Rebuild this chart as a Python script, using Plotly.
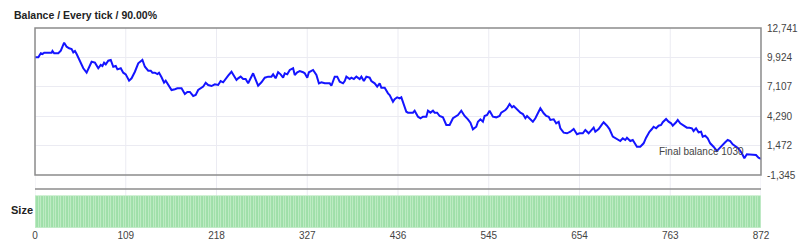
import plotly.graph_objects as go

# ---- data ----
tick_index = [0, 4, 7, 9, 11, 20, 21, 23, 28, 31, 35, 38, 41, 44, 46, 48, 50, 54, 58, 62,
              64, 68, 72, 76, 79, 81, 83, 85, 88, 91, 94, 97, 99, 103, 106, 109, 113, 116, 120, 124,
              129, 132, 136, 139, 141, 144, 147, 149, 152, 155, 157, 160, 164, 168, 171, 176, 180, 183, 186, 190,
              193, 196, 200, 202, 205, 208, 212, 216, 220, 223, 226, 229, 232, 236, 239, 242, 244, 247, 250, 253,
              256, 259, 262, 266, 268, 272, 276, 280, 284, 286, 289, 292, 295, 298, 300, 303, 306, 310, 312, 315,
              318, 322, 324, 327, 329, 334, 338, 341, 344, 348, 354, 356, 360, 363, 366, 370, 372, 374, 378, 380,
              383, 386, 390, 392, 395, 398, 402, 404, 408, 411, 414, 416, 420, 424, 426, 430, 432, 435, 438, 440,
              446, 448, 454, 456, 460, 463, 466, 470, 472, 475, 478, 480, 483, 486, 490, 494, 498, 502, 506, 508,
              512, 516, 520, 523, 526, 530, 532, 535, 538, 540, 543, 546, 550, 554, 558, 560, 565, 567, 570, 573,
              575, 579, 583, 586, 589, 591, 594, 598, 601, 603, 607, 611, 614, 617, 619, 623, 626, 629, 631, 635,
              639, 643, 647, 651, 654, 658, 661, 665, 667, 671, 673, 677, 681, 683, 687, 690, 694, 699, 703, 706,
              709, 711, 715, 718, 721, 723, 727, 731, 734, 738, 741, 743, 746, 749, 752, 754, 758, 761, 764, 766,
              770, 772, 775, 779, 783, 786, 789, 791, 794, 797, 800, 802, 805, 808, 811, 815, 819, 822, 826, 829,
              832, 835, 838, 841, 845, 849, 852, 855, 859, 864, 866, 869, 872]
balance = [9930, 9930, 10320, 10250, 10370, 10370, 10540, 10320, 10320, 10570, 11330, 10950, 10800, 10730, 10410, 10540, 10250, 9510, 8880, 8460,
           8780, 9510, 9420, 8880, 9200, 9100, 9420, 9260, 9610, 9680, 9030, 9100, 8780, 8880, 8460, 8300, 7690, 7920, 8550, 9360,
           9680, 9030, 8650, 8650, 8460, 8460, 8330, 8460, 8020, 7500, 7690, 7350, 6800, 6870, 6960, 6960, 6420, 6610, 6610, 6230,
           6320, 6800, 7060, 7120, 7500, 7280, 7180, 7350, 7280, 7660, 7540, 7920, 8170, 8550, 8170, 7760, 7920, 8080, 7850, 7850,
           7440, 7850, 8400, 7600, 7210, 7540, 7980, 8080, 8080, 8300, 7920, 8500, 8300, 7980, 8400, 8300, 8720, 8880, 8240, 8500,
           8620, 8500, 8400, 7980, 8500, 8720, 8240, 7440, 7540, 7440, 7440, 7210, 8080, 8080, 7600, 7440, 7660, 8080, 7850, 7980,
           7850, 8080, 7850, 8080, 7660, 8080, 7980, 7660, 7440, 7120, 7440, 7020, 7020, 6480, 6320, 5680, 5910, 6100, 6000, 6100,
           4720, 4630, 4630, 4820, 4240, 4090, 4240, 4240, 4820, 4630, 4820, 4630, 4630, 4310, 4180, 3450, 3450, 4090, 4310, 4400,
           4820, 4310, 3990, 3670, 3030, 3280, 3760, 3990, 3760, 4310, 4400, 4820, 4240, 4180, 4310, 4630, 4880, 5050, 5460, 5140,
           5270, 4950, 4630, 4500, 4090, 4310, 4090, 3760, 4090, 4400, 5050, 4570, 4310, 4240, 3930, 3990, 3610, 3760, 3130, 2710,
           2650, 2800, 3060, 2560, 2650, 2650, 2970, 2650, 2870, 3190, 2800, 3060, 3510, 3710, 3380, 3060, 2330, 2100, 1910, 2170,
           2010, 2230, 1910, 2010, 1600, 1370, 1370, 1690, 2230, 2800, 3060, 3280, 3130, 3380, 3450, 3710, 4020, 3760, 3610, 3380,
           3710, 3930, 3610, 3380, 3190, 3190, 3130, 2870, 3130, 2750, 2800, 2330, 2420, 2170, 1690, 1370, 960, 1210, 1600, 1790,
           2010, 1910, 1600, 1460, 1210, 740, 260, 640, 640, 570, 570, 310, 190]

size_index = list(range(0, 873, 3))
size_values = [0.1] * len(size_index)

x_ticks = [0, 109, 218, 327, 436, 545, 654, 763, 872]
y_ticks = [12741, 9924, 7107, 4290, 1472, -1345]
y_tick_text = ["12,741", "9,924", "7,107", "4,290", "1,472", "-1,345"]

title_text = "Balance / Every tick / 90.00%"
size_label = "Size"
final_text = "Final balance 1030"
final_pos = (747, 950)

FONT = "Liberation Sans, Arial, sans-serif"
GRID = "#ebebf2"
BORDER = "#8c8c8c"

fig = go.Figure()

fig.add_trace(go.Scatter(
    x=tick_index, y=balance, mode="lines",
    line=dict(color="#1414ff", width=2), xaxis="x", yaxis="y",
    hoverinfo="skip", showlegend=False,
))

fig.add_trace(go.Bar(
    x=size_index, y=size_values, xaxis="x2", yaxis="y2",
    marker=dict(color="#9edfa9", line=dict(width=0.6, color="#c4eec9")),
    hoverinfo="skip", showlegend=False,
))

main_dom = [0.265, 1.0]
low_dom = [0.0, 0.195]

fig.update_layout(
    width=800, height=250,
    margin=dict(l=35, r=39, t=28, b=22, autoexpand=False),
    paper_bgcolor="white", plot_bgcolor="rgba(0,0,0,0)",
    bargap=0.0,
    font=dict(family=FONT, size=10, color="#444"),
    xaxis=dict(domain=[0, 1], range=[0, 872], showticklabels=False, showgrid=False,
               zeroline=False, anchor="y", fixedrange=True, automargin=False),
    yaxis=dict(domain=main_dom, range=[-1345, 12741], side="right",
               tickvals=y_ticks, ticktext=y_tick_text, showgrid=True, gridcolor=GRID,
               gridwidth=1, zeroline=False, ticks="", ticklen=0, ticklabelstandoff=5,
               tickfont=dict(size=10, color="#444"), anchor="x", automargin=False),
    xaxis2=dict(domain=[0, 1], range=[0, 872], tickvals=x_ticks,
                ticktext=[str(v) for v in x_ticks], showgrid=False, zeroline=False,
                anchor="y2", matches="x", tickfont=dict(size=10, color="#444"),
                ticks="", ticklen=0, automargin=False),
    yaxis2=dict(domain=low_dom, range=[0, 0.1219], showticklabels=False,
                showgrid=False, zeroline=False, anchor="x2", automargin=False),
)

shapes = []
for v in x_ticks:
    shapes.append(dict(type="line", xref="x", yref="paper", x0=v, x1=v,
                       y0=0, y1=1, line=dict(color=GRID, width=1), layer="below"))
shapes.append(dict(type="rect", xref="x domain", yref="y domain", x0=0, x1=1, y0=0, y1=1,
                   line=dict(color=BORDER, width=1.5), layer="above"))
shapes.append(dict(type="line", xref="x2 domain", yref="y2 domain", x0=0, x1=1, y0=1, y1=1,
                   line=dict(color=BORDER, width=1.5)))
fig.update_layout(shapes=shapes)

fig.add_annotation(text="<b>" + title_text + "</b>", xref="paper", yref="paper",
                   x=-23 / 726, y=(228 - 15) / 200, xanchor="left", yanchor="middle",
                   showarrow=False, font=dict(family=FONT, size=10.5, color="#222"))
fig.add_annotation(text="<b>" + size_label + "</b>", xref="paper", yref="paper",
                   x=-26 / 726, y=(228 - 210) / 200, xanchor="left", yanchor="middle",
                   showarrow=False, font=dict(family=FONT, size=11, color="#222"))
fig.add_annotation(text=final_text, xref="x", yref="y", x=final_pos[0], y=final_pos[1],
                   xanchor="left", yanchor="middle", showarrow=False,
                   font=dict(family=FONT, size=10, color="#444"))

fig.write_html("out.html")
